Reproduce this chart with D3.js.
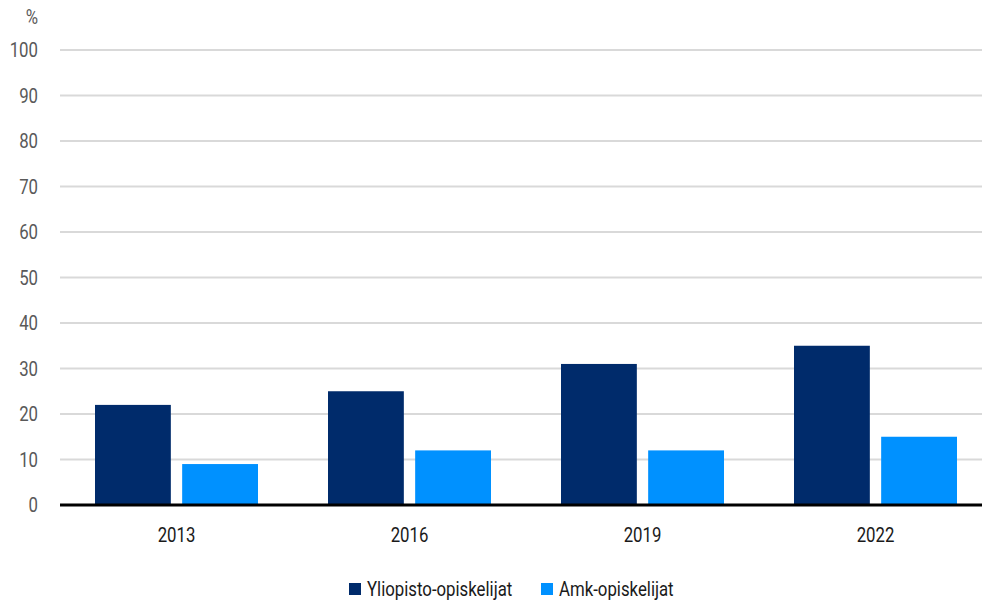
<!DOCTYPE html>
<html>
<head>
<meta charset="utf-8">
<script src="https://cdn.jsdelivr.net/npm/d3@7"></script>
<style>
  body { margin: 0; background: #fff; }
  text { font-family: "Liberation Sans Narrow", "Roboto", "Liberation Sans", sans-serif; }
</style>
</head>
<body>
<div id="chart"></div>
<script>
// Data.
var years = ['2013', '2016', '2019', '2022'];
var seriesNames = ['Yliopisto-opiskelijat', 'Amk-opiskelijat'];
var yliopisto = [22, 25, 31, 35];
var amk = [9, 12, 12, 15];
var yTicks = [0, 10, 20, 30, 40, 50, 60, 70, 80, 90, 100];

var COLORS = ['#002b6b', '#0091ff'];

var WIDTH = 983;
var HEIGHT = 601;
var LEFT = 60, RIGHT = 982, TOP = 50, BOTTOM = 505;
// Narrow look of the original font.
var SQUEEZE = 'scale(0.8,1)';

var svg = d3.select('#chart').append('svg')
  .attr('width', WIDTH)
  .attr('height', HEIGHT);

var x0 = d3.scaleBand().domain(years).range([LEFT, 992]);
var x1 = d3.scaleBand().domain(seriesNames).range([35, x0.bandwidth() - 35]).paddingInner(0.13);
var y = d3.scaleLinear().domain([0, 100]).range([BOTTOM, TOP]);

// Gridlines
svg.append('g')
  .selectAll('line')
  .data(yTicks.slice(1))
  .enter().append('line')
  .attr('x1', LEFT).attr('x2', RIGHT)
  .attr('y1', function(d) { return y(d); })
  .attr('y2', function(d) { return y(d); })
  .attr('stroke', '#d9d9d9')
  .attr('stroke-width', 2);

// Y axis labels
var yAxis = d3.axisLeft(y).tickValues(yTicks).tickSize(0).tickPadding(0);
var ya = svg.append('g').attr('transform', 'translate(38,0)').call(yAxis);
ya.select('.domain').remove();
ya.selectAll('text')
  .attr('fill', '#595959')
  .attr('transform', SQUEEZE)
  .style('font-size', '21px');

svg.append('text')
  .attr('transform', 'translate(38,24) ' + SQUEEZE)
  .attr('text-anchor', 'end')
  .attr('fill', '#595959')
  .style('font-size', '21px')
  .text('%');

// Bars
var rows = years.map(function(yr, i) {
  return { year: yr, values: [yliopisto[i], amk[i]] };
});

var groups = svg.append('g').selectAll('g')
  .data(rows)
  .enter().append('g')
  .attr('transform', function(d) { return 'translate(' + x0(d.year) + ',0)'; });

groups.selectAll('rect')
  .data(function(d) { return d.values.map(function(v, j) { return { name: seriesNames[j], value: v, j: j }; }); })
  .enter().append('rect')
  .attr('x', function(d) { return x1(d.name); })
  .attr('width', x1.bandwidth())
  .attr('y', function(d) { return y(d.value); })
  .attr('height', function(d) { return y(0) - y(d.value); })
  .attr('fill', function(d) { return COLORS[d.j]; });

// X axis
var xAxis = d3.axisBottom(x0).tickSize(0).tickPadding(0);
var xa = svg.append('g').attr('transform', 'translate(0,' + BOTTOM + ')').call(xAxis);
xa.select('.domain').attr('d', 'M' + LEFT + ',0H' + RIGHT)
  .attr('stroke', '#000').attr('stroke-width', 3);
xa.selectAll('text')
  .attr('dy', null)
  .attr('y', 0)
  .attr('transform', 'translate(0,37) ' + SQUEEZE)
  .attr('fill', '#1a1a1a')
  .style('font-size', '21px');

// Legend
var legendX = [349, 541];
var legend = svg.append('g').selectAll('g')
  .data(seriesNames)
  .enter().append('g')
  .attr('transform', function(d, i) { return 'translate(' + legendX[i] + ',583)'; });
legend.append('rect')
  .attr('width', 12).attr('height', 12)
  .attr('fill', function(d, i) { return COLORS[i]; });
legend.append('text')
  .attr('transform', 'translate(18,13) ' + SQUEEZE)
  .attr('fill', '#1a1a1a')
  .style('font-size', '21px')
  .text(function(d) { return d; });
</script>
</body>
</html>
